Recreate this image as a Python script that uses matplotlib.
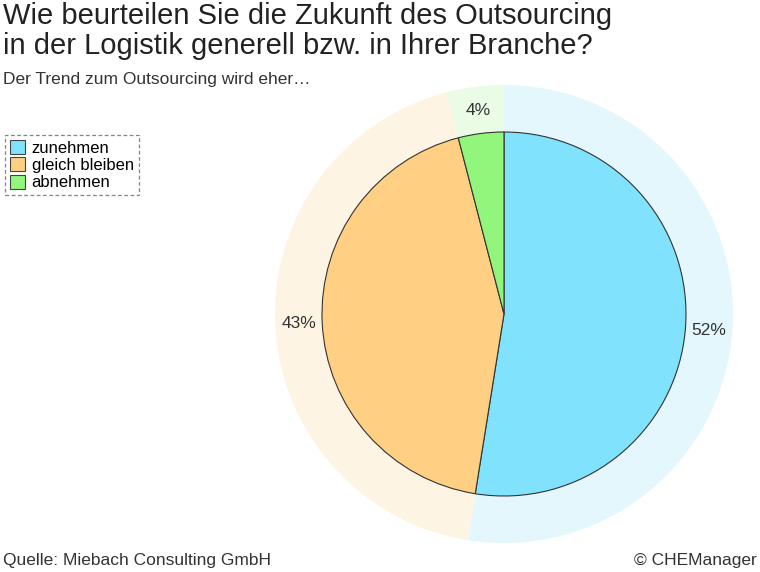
import matplotlib
matplotlib.use("Agg")
import matplotlib.pyplot as plt
import numpy as np
from matplotlib.patches import Patch

plt.rcParams["font.family"] = "Liberation Sans"

categories = ["zunehmen", "gleich bleiben", "abnehmen"]
values = [52, 43, 4]
labels = ["52%", "43%", "4%"]
colors = ["#80E2FC", "#FFD083", "#92F57C"]
light = ["#E3F7FD", "#FEF4E4", "#EAFBE6"]

W, H = 760, 572
fig = plt.figure(figsize=(7.6, 5.72), dpi=100)
cx, cy, R = 504, 314, 229
ax = fig.add_axes([(cx - R) / W, (H - cy - R) / H, 2 * R / W, 2 * R / H])
ax.pie(values, colors=light, startangle=90, counterclock=False, radius=1.0,
       wedgeprops=dict(linewidth=0))
ax.pie(values, colors=colors, startangle=90, counterclock=False, radius=182 / 229,
       wedgeprops=dict(linewidth=0.8, edgecolor="#333333"))
total = sum(values)
start = 90.0
for v, lab in zip(values, labels):
    mid = start - v / total * 360 / 2
    start -= v / total * 360
    r = 0.895
    ax.text(r * np.cos(np.radians(mid)), r * np.sin(np.radians(mid)), lab,
            ha="center", va="center", fontsize=12.5, color="#333333")
ax.set_xlim(-1, 1); ax.set_ylim(-1, 1); ax.set_aspect("equal"); ax.axis("off")

fig.text(3 / W, 1 - 2 / H, "Wie beurteilen Sie die Zukunft des Outsourcing\nin der Logistik generell bzw. in Ihrer Branche?",
         ha="left", va="top", fontsize=21, color="#222222", linespacing=1.1)
fig.text(3 / W, 1 - 72 / H, "Der Trend zum Outsourcing wird eher…", ha="left", va="top",
         fontsize=12.5, color="#333333")
fig.text(3 / W, 1 - 560 / H, "Quelle: Miebach Consulting GmbH", ha="left", va="center",
         fontsize=12.5, color="#333333")
fig.text(757 / W, 1 - 560 / H, "© CHEManager", ha="right", va="center",
         fontsize=12.5, color="#333333")

handles = [Patch(facecolor=c, edgecolor="#444444", linewidth=0.8) for c in colors]
leg = fig.legend(handles, categories, loc="upper left", bbox_to_anchor=(5 / W, 1 - 135 / H),
                 fontsize=12, frameon=True, fancybox=False, handlelength=0.9, handleheight=0.9,
                 handletextpad=0.4, labelspacing=0.1, borderpad=0.3, borderaxespad=0)
leg.get_frame().set_linestyle((0, (3, 2)))
leg.get_frame().set_edgecolor("#666666")
leg.get_frame().set_linewidth(0.9)
fig.savefig("out.png", dpi=100)
